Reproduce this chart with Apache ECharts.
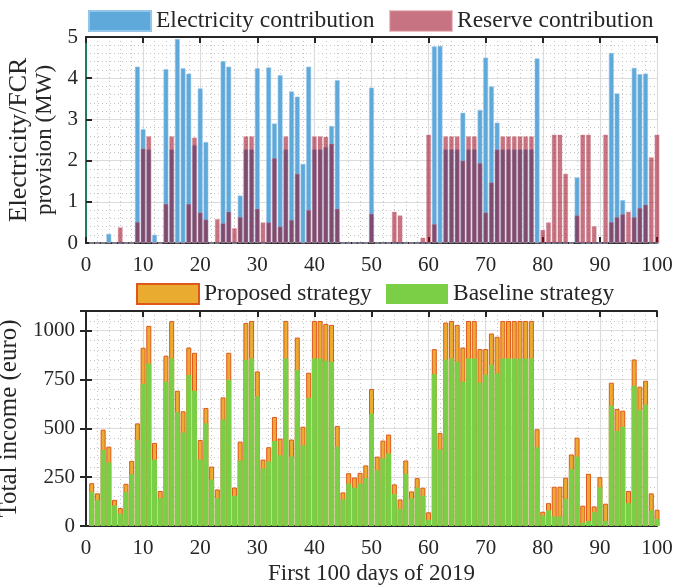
<!DOCTYPE html>
<html>
<head>
<meta charset="utf-8">
<script src="https://cdn.jsdelivr.net/npm/echarts@6/dist/echarts.min.js"></script>
<style>
html,body{margin:0;padding:0;background:#fff;}
#chart{width:674px;height:585px;}
</style>
</head>
<body>
<div id="chart"></div>
<script>
// ---- data (day 1 .. 100) ----
const electricity = [
  0,0,0,0.22,0,0,0,0,4.28,2.76,
  2.27,0.2,0,4.22,2.27,4.95,4.24,4.11,2.37,3.75,
  2.45,0,0,4.41,4.28,0,1.15,2.27,2.27,4.24,
  0,4.26,2.9,4.07,2.27,3.68,3.55,1.92,4.28,2.27,
  2.27,2.33,2.84,3.95,0,0,0,0,0,3.77,
  0,0,0,0,0,0,0,0,0,0,
  4.77,4.78,2.27,2.27,2.27,3.16,2.27,2.27,3.23,4.5,
  3.8,2.92,2.27,2.27,2.27,2.27,2.27,2.27,4.48,0,
  0,0,0,0,0,1.59,0,0,0,0,
  0,4.61,3.63,1.04,0,4.25,4.1,4.11,0,0
];
const reserve = [
  0,0,0,0,0,0.38,0,0,0.51,2.29,
  2.59,0,0,0.95,2.59,0,0,0.95,2.56,0.74,
  0.57,0,0.58,0.48,0.76,0.36,0.63,2.59,2.59,0.83,
  0.5,0.5,2.06,0.4,2.59,0.56,1.68,0,0.8,2.59,
  2.59,2.58,2.41,0.83,0,0,0,0,0,0.71,
  0,0,0,0.76,0.67,0,0,0,0.13,2.63,
  0.46,0,2.59,2.59,2.59,2.0,2.59,2.59,1.94,0.74,
  1.47,2.27,2.59,2.59,2.59,2.59,2.59,2.59,0,0.32,
  0.5,2.63,2.63,1.68,0,0.67,2.63,2.63,0.41,0,
  2.63,0.51,0.63,0.7,0.76,0.63,0.85,0.93,2.08,2.63
];
const proposed = [
  219,167,493,406,134,92,216,333,525,912,
  1024,425,179,871,1048,692,587,913,886,440,
  604,304,187,658,886,197,432,1039,1049,791,
  340,403,558,447,1049,442,964,508,784,1049,
  1049,1034,1029,512,172,270,248,272,310,701,
  355,437,468,213,136,335,177,245,196,70,
  905,476,1041,1049,1029,913,1049,1049,905,905,
  985,968,1049,1049,1049,1049,1049,1049,495,73,
  117,201,201,247,366,452,104,267,100,250,
  114,733,599,590,179,852,713,743,167,83
];
const baseline = [
  173,131,389,325,105,63,173,264,439,726,
  832,340,143,738,857,582,478,772,692,340,
  525,238,143,544,748,155,335,849,857,662,
  294,330,435,362,857,355,798,413,655,857,
  857,845,840,406,136,216,196,216,245,575,
  284,347,371,163,88,267,141,196,155,32,
  777,391,850,857,840,738,857,857,733,774,
  825,782,857,857,857,857,857,857,403,54,
  80,49,49,139,291,355,17,26,71,197,
  26,616,486,508,117,718,594,621,80,36
];
const seriesNames = ['Electricity contribution','Reserve contribution','Proposed strategy','Baseline strategy'];
const topYName1 = 'Electricity/FCR';
const topYName2 = 'provision (MW)';
const bottomYName = 'Total income (euro)';
const xName = 'First 100 days of 2019';

function pairs(arr){ return arr.map((v,i)=>[i+1, v]); }

const FONT = 'Liberation Serif';
const TXT = '#262626';
const AX = '#262626';
const NUM = 21;
const LEG = 23.5;

function mainX(grid, withName){
  return {
    type:'value', gridIndex:grid, min:0, max:100, interval:10, position:'bottom',
    axisLine:{show:true, onZero:false, lineStyle:{color:AX, width:2}},
    axisTick:{show:true, inside:true, length:6, lineStyle:{color:AX, width:2}},
    axisLabel:{show:true, color:TXT, fontFamily:FONT, fontSize:NUM, margin:12,
               formatter:(v)=>String(v)},
    splitLine:{show:true, lineStyle:{color:'#dcdcdc', width:1.2}},
    minorTick:{show:false, splitNumber:5},
    minorSplitLine:{show:true, lineStyle:{color:'#c4c4c4', width:1, type:[1,3]}},
    name: withName ? xName : '',
    nameLocation:'middle', nameGap:36,
    nameTextStyle:{color:TXT, fontFamily:FONT, fontSize:23}
  };
}
function topX(grid){
  return {
    type:'value', gridIndex:grid, min:0, max:100, interval:10, position:'top',
    axisLine:{show:true, onZero:false, lineStyle:{color:AX, width:2}},
    axisTick:{show:true, inside:true, length:6, lineStyle:{color:AX, width:2}},
    axisLabel:{show:false}, splitLine:{show:false}
  };
}

const legendText = {color:TXT, fontFamily:FONT, fontSize:LEG};

const option = {
  backgroundColor:'#ffffff',
  animation:false,
  textStyle:{fontFamily:FONT},
  grid:[
    {left:86, right:17, top:37, height:206, outerBoundsMode:'none', containLabel:false},
    {left:86, right:17, top:311, height:215, outerBoundsMode:'none', containLabel:false}
  ],
  legend:[
    {data:[seriesNames[0]], left:88, top:9, itemWidth:62, itemHeight:20, padding:0, icon:'rect', textStyle:legendText},
    {data:[seriesNames[1]], left:389, top:9, itemWidth:62, itemHeight:20, padding:0, icon:'rect', textStyle:legendText},
    {data:[seriesNames[2]], left:136, top:282, itemWidth:62, itemHeight:20, padding:0, icon:'rect', textStyle:legendText},
    {data:[seriesNames[3]], left:386, top:282, itemWidth:62, itemHeight:20, padding:0, icon:'rect', textStyle:legendText}
  ],
  xAxis:[ mainX(0,false), topX(0), mainX(1,true), topX(1) ],
  yAxis:[
    {
      type:'value', gridIndex:0, min:0, max:5, interval:1, position:'left',
      axisLine:{show:true, lineStyle:{color:AX, width:2}},
      axisTick:{show:true, inside:true, length:6, lineStyle:{color:AX, width:2}},
      axisLabel:{color:TXT, fontFamily:FONT, fontSize:NUM, margin:8},
      splitLine:{show:true, lineStyle:{color:'#dcdcdc', width:1.2}},
      minorTick:{show:false, splitNumber:5},
      minorSplitLine:{show:true, lineStyle:{color:'#c4c4c4', width:1, type:[1,3]}},
      name:'{a|' + topYName1 + '}\n{b|' + topYName2 + '}',
      nameLocation:'middle', nameRotate:90, nameGap:25,
      nameTextStyle:{color:TXT, fontFamily:FONT, align:'center',
        rich:{
          a:{fontFamily:FONT, fontSize:26, lineHeight:27, color:TXT},
          b:{fontFamily:FONT, fontSize:23, lineHeight:25, color:TXT}
        }}
    },
    {
      type:'value', gridIndex:0, min:0, max:5, interval:1, position:'right',
      axisLine:{show:true, lineStyle:{color:'#1c7d60', width:2}},
      axisTick:{show:false}, axisLabel:{show:false}, splitLine:{show:false}
    },
    {
      type:'value', gridIndex:1, min:0, max:1100, interval:250, position:'left',
      axisLine:{show:true, lineStyle:{color:AX, width:2}},
      axisTick:{show:true, inside:true, length:6, lineStyle:{color:AX, width:2}},
      axisLabel:{color:TXT, fontFamily:FONT, fontSize:NUM, margin:11, showMaxLabel:false,
                 formatter:(v)=>String(v)},
      splitLine:{show:true, lineStyle:{color:'#dcdcdc', width:1.2}},
      minorTick:{show:false, splitNumber:5},
      minorSplitLine:{show:true, lineStyle:{color:'#c4c4c4', width:1, type:[1,3]}},
      name:bottomYName, nameLocation:'middle', nameRotate:90, nameGap:52,
      nameTextStyle:{color:TXT, fontFamily:FONT, fontSize:25}
    },
    {
      type:'value', gridIndex:1, min:0, max:1100, interval:250, position:'right',
      axisLine:{show:true, lineStyle:{color:AX, width:2}},
      axisTick:{show:true, inside:true, length:6, lineStyle:{color:AX, width:2}},
      axisLabel:{show:false}, splitLine:{show:false}
    }
  ],
  series:[
    {
      name:seriesNames[0], type:'bar', xAxisIndex:0, yAxisIndex:0, clip:false,
      barWidth:4.8, barGap:'-100%', data:pairs(electricity),
      itemStyle:{color:'#5ea8da', borderColor:'#93c5ea', borderWidth:0.6}
    },
    {
      name:seriesNames[1], type:'bar', xAxisIndex:0, yAxisIndex:0, clip:false,
      barWidth:4.8, barGap:'-100%', data:pairs(reserve),
      itemStyle:{color:'#99001a', opacity:0.55, borderColor:'#d88a98', borderWidth:0.6}
    },
    {
      name:seriesNames[2], type:'bar', xAxisIndex:2, yAxisIndex:2, clip:false,
      barWidth:5, barGap:'-100%', data:pairs(proposed),
      itemStyle:{color:'#e9ac30', borderColor:'#e0571c', borderWidth:1}
    },
    {
      name:seriesNames[3], type:'bar', xAxisIndex:2, yAxisIndex:2, clip:false,
      barWidth:5, barGap:'-100%', data:pairs(baseline),
      itemStyle:{color:'#7acf46'}
    }
  ]
};

const chart = echarts.init(document.getElementById('chart'), null, {renderer:'canvas'});
chart.setOption(option);
</script>
</body>
</html>
